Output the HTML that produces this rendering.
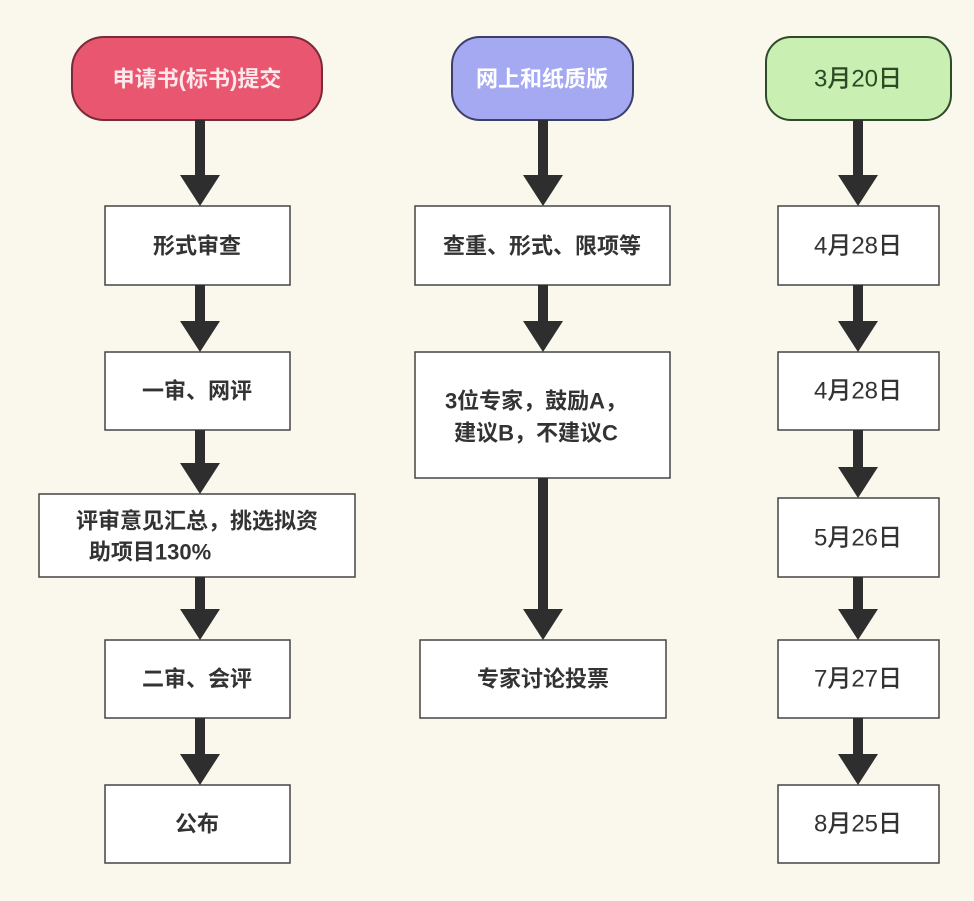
<!DOCTYPE html><html><head><meta charset="utf-8"><style>
html,body{margin:0;padding:0;background:#faf8ec}
text{font-family:"Liberation Sans","Noto Sans CJK SC",sans-serif;font-size:22px;font-weight:bold;fill:#333;text-anchor:middle;dominant-baseline:central}
</style></head><body>
<svg width="974" height="896" xmlns="http://www.w3.org/2000/svg">
<rect width="974" height="896" fill="#faf8ec"/>
<g stroke="#333" stroke-width="2">
<rect x="72" y="37" width="250" height="83" rx="32" fill="#e8566f" stroke="#7a2a38"/>
<rect x="452" y="37" width="181" height="83" rx="28" fill="#a4a9f1" stroke="#3d3f6a"/>
<rect x="766" y="37" width="185" height="83" rx="25" fill="#c9efb3" stroke="#2f4a28"/>
<g fill="#fff" stroke="#444" stroke-width="1.5">
<rect x="105" y="206" width="185" height="79"/>
<rect x="105" y="352" width="185" height="78"/>
<rect x="39" y="494" width="316" height="83"/>
<rect x="105" y="640" width="185" height="78"/>
<rect x="105" y="785" width="185" height="78"/>
<rect x="415" y="206" width="255" height="79"/>
<rect x="415" y="352" width="255" height="126"/>
<rect x="420" y="640" width="246" height="78"/>
<rect x="778" y="206" width="161" height="79"/>
<rect x="778" y="352" width="161" height="78"/>
<rect x="778" y="498" width="161" height="79"/>
<rect x="778" y="640" width="161" height="78"/>
<rect x="778" y="785" width="161" height="78"/>
</g></g>
<g fill="#2e2e2e">
<path d="M195 120h10v55h15l-20 31l-20-31h15z"/>
<path d="M195 285h10v36h15l-20 31l-20-31h15z"/>
<path d="M195 430h10v33h15l-20 31l-20-31h15z"/>
<path d="M195 577h10v32h15l-20 31l-20-31h15z"/>
<path d="M195 718h10v36h15l-20 31l-20-31h15z"/>
<path d="M538 120h10v55h15l-20 31l-20-31h15z"/>
<path d="M538 285h10v36h15l-20 31l-20-31h15z"/>
<path d="M538 478h10v131h15l-20 31l-20-31h15z"/>
<path d="M853 120h10v55h15l-20 31l-20-31h15z"/>
<path d="M853 285h10v36h15l-20 31l-20-31h15z"/>
<path d="M853 430h10v37h15l-20 31l-20-31h15z"/>
<path d="M853 577h10v32h15l-20 31l-20-31h15z"/>
<path d="M853 718h10v36h15l-20 31l-20-31h15z"/>
</g>
<text x="197" y="79" style="fill:#fde8ec">申请书(标书)提交</text>
<text x="542" y="79" style="fill:#fff">网上和纸质版</text>
<text x="858" y="79" style="fill:#2c4a24;font-size:24px;font-weight:500">3月20日</text>
<text x="197" y="246">形式审查</text>
<text x="197" y="391">一审、网评</text>
<text x="197" y="521">评审意见汇总，挑选拟资</text>
<text x="150" y="552">助项目130%</text>
<text x="197" y="679">二审、会评</text>
<text x="197" y="824">公布</text>
<text x="542" y="246">查重、形式、限项等</text>
<text x="536" y="401">3位专家，鼓励A，</text>
<text x="536" y="433">建议B，不建议C</text>
<text x="543" y="679">专家讨论投票</text>
<text x="858" y="246" style="font-size:24px;font-weight:500">4月28日</text>
<text x="858" y="391" style="font-size:24px;font-weight:500">4月28日</text>
<text x="858" y="538" style="font-size:24px;font-weight:500">5月26日</text>
<text x="858" y="679" style="font-size:24px;font-weight:500">7月27日</text>
<text x="858" y="824" style="font-size:24px;font-weight:500">8月25日</text>
</svg></body></html>
